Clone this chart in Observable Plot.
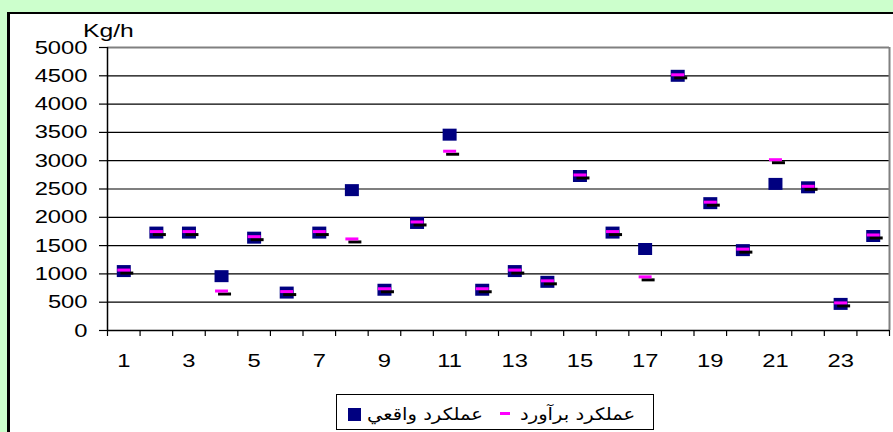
<!DOCTYPE html>
<html><head><meta charset="utf-8">
<script src="https://cdn.jsdelivr.net/npm/d3@7"></script>
<script src="https://cdn.jsdelivr.net/npm/@observablehq/plot@0.6"></script>
<style>
html,body{margin:0;padding:0;width:893px;height:432px;overflow:hidden;background:#CCFFCC;font-family:"Liberation Sans",Arial,sans-serif;}
#panel{position:absolute;left:7px;top:12px;width:900px;height:430px;background:#fff;border-left:3px solid #000;border-top:2px solid #000;}
#chart{position:absolute;left:0;top:0;}
#unit{position:absolute;left:83px;top:20px;font-size:19px;line-height:22px;transform:scaleX(1.3);transform-origin:left top;color:#000;}
#legend{position:absolute;left:336px;top:394px;width:316px;height:34px;border:1.5px solid #000;background:#fff;}
.lg{position:absolute;top:9px;font-family:"DejaVu Sans",sans-serif;font-size:17px;line-height:20px;direction:rtl;white-space:nowrap;color:#000;transform:scaleX(1.15);transform-origin:left top;}
</style>
</head><body>
<div id="panel"></div>
<div id="chart"></div>
<div id="unit">Kg/h</div>
<div id="legend">
  <div style="position:absolute;left:10.5px;top:13px;width:13px;height:13px;background:#000080"></div>
  <div class="lg" id="t1" style="left:29.5px">عملکرد واقعي</div>
  <div style="position:absolute;left:162.5px;top:16.5px;width:10px;height:3px;background:#FF00FF"></div>
  <div class="lg" id="t2" style="left:182.5px">عملکرد برآورد</div>
</div>
<script>
const days = [1,2,3,4,5,6,7,8,9,10,11,12,13,14,15,16,17,18,19,20,21,22,23,24];
const actual = [1050,1730,1730,960,1640,670,1730,2480,720,1900,3460,720,1050,860,2730,1730,1440,4500,2250,1420,2590,2530,470,1670];
const planned = [1050,1730,1730,680,1640,670,1730,1600,720,1900,3150,720,1050,860,2730,1730,930,4500,2250,1420,3000,2530,470,1670];
const yTicks = [0,500,1000,1500,2000,2500,3000,3500,4000,4500,5000];
const xTickLabels = [1,3,5,7,9,11,13,15,17,19,21,23];

const data = days.map((d, i) => ({day: d, actual: actual[i], planned: planned[i]}));
const bounds = days.map(d => d - 0.5).concat([days[days.length - 1] + 0.5]);
const rectSym = (w, h, oy = 0) => ({draw(ctx) { ctx.rect(-w / 2, -h / 2 + oy, w, h); }});

const chart = Plot.plot({
  width: 893, height: 370,
  marginLeft: 107, marginRight: 4, marginTop: 47, marginBottom: 40,
  style: {background: "transparent", fontFamily: "'Liberation Sans', Arial, sans-serif", color: "#000", overflow: "visible"},
  x: {domain: [bounds[0], bounds[bounds.length - 1]], axis: null, label: null},
  y: {domain: [0, 5000], axis: null, label: null},
  marks: [
    Plot.ruleY(yTicks.filter(v => v > 0 && v < 5000), {stroke: "#000", strokeWidth: 1.2}),
    Plot.ruleY([5000], {stroke: "#808080", strokeWidth: 2}),
    Plot.ruleX([bounds[bounds.length - 1]], {stroke: "#808080", strokeWidth: 2}),
    Plot.axisY({ticks: yTicks, tickSize: 8, tickPadding: 12, fontSize: 19, label: null, tickFormat: d3.format("d"), stroke: "#000", strokeWidth: 1.2}),
    Plot.axisX({ticks: bounds, tickSize: 6, tickFormat: () => "", label: null, stroke: "#000", strokeWidth: 1.2}),
    Plot.axisX({ticks: xTickLabels, tickSize: 0, tickPadding: 23, fontSize: 19, label: null, tickFormat: d3.format("d")}),
    Plot.ruleX([bounds[0]], {stroke: "#000", strokeWidth: 1.5}),
    Plot.ruleY([0], {stroke: "#000", strokeWidth: 1.5}),
    Plot.dot(data, {x: "day", y: "actual", symbol: rectSym(14, 12), fill: "#000080", stroke: null}),
    Plot.dot(data, {x: "day", y: "planned", symbol: rectSym(13, 3, -1), fill: "#000", stroke: null, dx: 3, dy: 3}),
    Plot.dot(data, {x: "day", y: "planned", symbol: rectSym(13, 3, -1), fill: "#FF00FF", stroke: null})
  ]
});
document.getElementById("chart").appendChild(chart);
d3.select(chart).selectAll('g[aria-label="y-axis tick label"] text, g[aria-label="x-axis tick label"] text')
  .each(function() {
    const t = this.getAttribute("transform") || "";
    this.setAttribute("transform", t + " scale(1.25,1)");
  });
</script>
</body></html>
